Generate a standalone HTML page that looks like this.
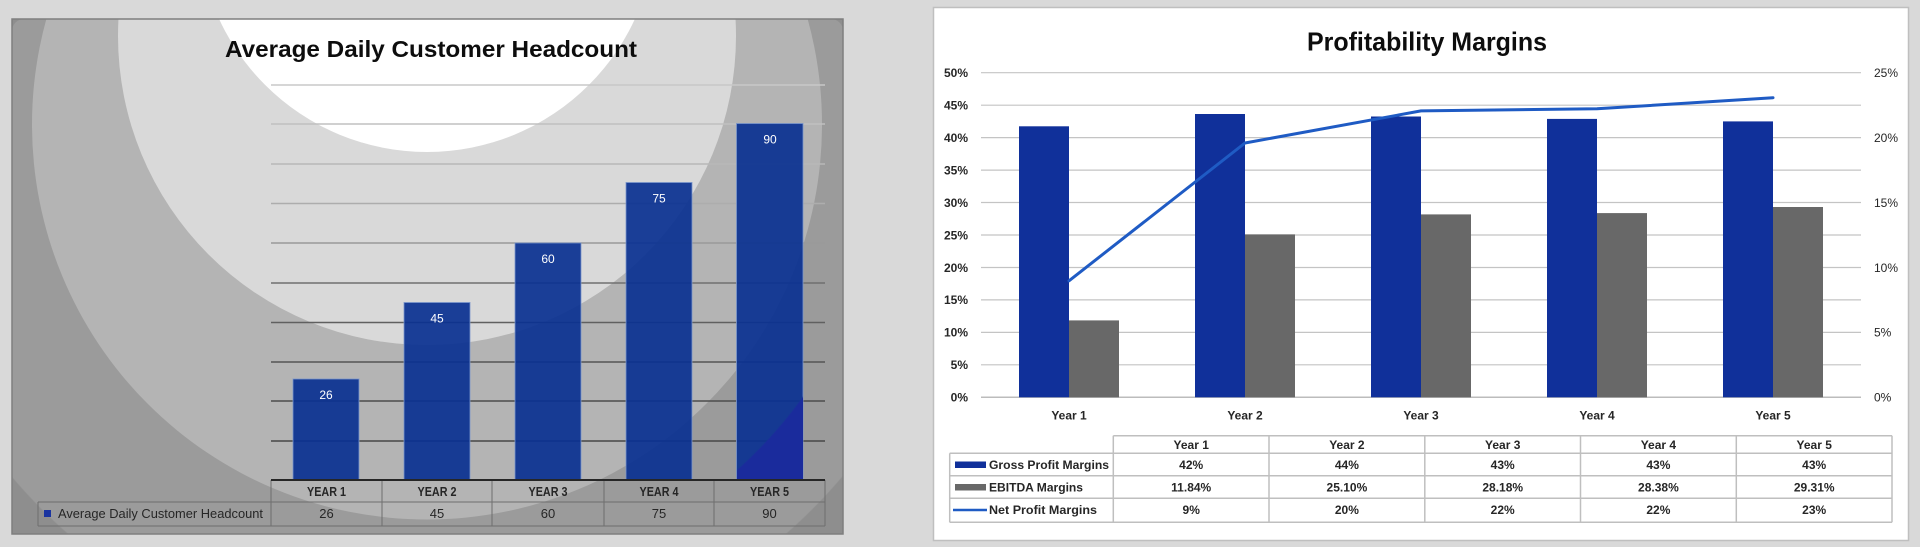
<!DOCTYPE html>
<html>
<head>
<meta charset="utf-8">
<style>
  html,body{margin:0;padding:0;background:#d9d9d9;width:1920px;height:547px;overflow:hidden;}
  svg{display:block;position:absolute;left:0;top:0;}
  text{font-family:"Liberation Sans", Arial, sans-serif;}
</style>
</head>
<body>
<svg width="1920" height="547" viewBox="0 0 1920 547" xmlns="http://www.w3.org/2000/svg">
  <defs>
    <clipPath id="lf"><rect x="12" y="19" width="831" height="515"/></clipPath>
    <radialGradient id="outer" gradientUnits="userSpaceOnUse" cx="427" cy="124.5" r="545">
      <stop offset="0" stop-color="#9b9b9b"/>
      <stop offset="0.998" stop-color="#9b9b9b"/>
      <stop offset="1" stop-color="#8e8e8e"/>
    </radialGradient>
    <radialGradient id="b5g" gradientUnits="userSpaceOnUse" cx="427" cy="124.5" r="465">
      <stop offset="0" stop-color="#1a2b9c" stop-opacity="0"/>
      <stop offset="0.997" stop-color="#1a2b9c" stop-opacity="0"/>
      <stop offset="1" stop-color="#1a2b9c" stop-opacity="1"/>
    </radialGradient>
  </defs>
  <rect width="1920" height="547" fill="#d9d9d9"/>

  <!-- ===== LEFT CHART ===== -->
  <g clip-path="url(#lf)">
    <rect x="12" y="19" width="831" height="515" fill="#8e8e8e"/>
    <rect x="12" y="19" width="831" height="515" rx="12" fill="url(#outer)"/>
    <circle cx="427" cy="124.5" r="395" fill="#b4b4b4"/>
    <circle cx="427" cy="36" r="309" fill="#d9d9d9"/>
    <circle cx="427" cy="-77" r="229" fill="#ffffff"/>
  </g>
  <rect x="12" y="19" width="831" height="515" fill="none" stroke="#7f7f7f" stroke-width="1.5"/>

  <!-- title -->
  <text x="225" y="57" font-size="23" font-weight="bold" fill="#0d0d0d" textLength="412" lengthAdjust="spacingAndGlyphs">Average Daily Customer Headcount</text>

  <!-- gridlines -->
  <g stroke-width="1.5">
    <line x1="271" y1="85" x2="825" y2="85" stroke="#c8c8c8"/>
    <line x1="271" y1="124" x2="825" y2="124" stroke="#c0c0c0"/>
    <line x1="271" y1="164" x2="825" y2="164" stroke="#b8b8b8"/>
    <line x1="271" y1="203.5" x2="825" y2="203.5" stroke="#adadad"/>
    <line x1="271" y1="243" x2="825" y2="243" stroke="#999999"/>
    <line x1="271" y1="283" x2="825" y2="283" stroke="#707070"/>
    <line x1="271" y1="322.5" x2="825" y2="322.5" stroke="#606060"/>
    <line x1="271" y1="362" x2="825" y2="362" stroke="#555555"/>
    <line x1="271" y1="401" x2="825" y2="401" stroke="#4d4d4d"/>
    <line x1="271" y1="441" x2="825" y2="441" stroke="#474747"/>
  </g>

  <!-- bars -->
  <g fill="#0a3191" fill-opacity="0.92" stroke="#7b96cc" stroke-width="1" stroke-opacity="0.8">
    <rect x="293" y="379" width="66" height="101"/>
    <rect x="404" y="302.5" width="66" height="177.5"/>
    <rect x="515" y="243" width="66" height="237"/>
    <rect x="626" y="182.5" width="66" height="297.5"/>
    <rect x="736.5" y="123.5" width="66.5" height="356.5"/>
  </g>
  <rect x="737" y="124" width="66" height="356" fill="url(#b5g)"/>

  <!-- bar labels -->
  <g font-size="12" fill="#ffffff" text-anchor="middle">
    <text x="326" y="399">26</text>
    <text x="437" y="322.5">45</text>
    <text x="548" y="263">60</text>
    <text x="659" y="202.5">75</text>
    <text x="770" y="143.5">90</text>
  </g>

  <!-- data table -->
  <g stroke="#6e6e6e" stroke-width="1">
    <line x1="38" y1="502" x2="825" y2="502"/>
    <line x1="38" y1="526" x2="825" y2="526"/>
    <line x1="38" y1="502" x2="38" y2="526"/>
    <line x1="271" y1="480" x2="271" y2="526"/>
    <line x1="382" y1="480" x2="382" y2="526"/>
    <line x1="492" y1="480" x2="492" y2="526"/>
    <line x1="604" y1="480" x2="604" y2="526"/>
    <line x1="714" y1="480" x2="714" y2="526"/>
    <line x1="825" y1="480" x2="825" y2="526"/>
  </g>
  <line x1="271" y1="480" x2="825" y2="480" stroke="#262626" stroke-width="2"/>
  <g font-size="12.5" font-weight="bold" fill="#262626" text-anchor="middle">
    <text x="326.5" y="496" textLength="39" lengthAdjust="spacingAndGlyphs">YEAR 1</text>
    <text x="437" y="496" textLength="39" lengthAdjust="spacingAndGlyphs">YEAR 2</text>
    <text x="548" y="496" textLength="39" lengthAdjust="spacingAndGlyphs">YEAR 3</text>
    <text x="659" y="496" textLength="39" lengthAdjust="spacingAndGlyphs">YEAR 4</text>
    <text x="769.5" y="496" textLength="39" lengthAdjust="spacingAndGlyphs">YEAR 5</text>
  </g>
  <g font-size="13" fill="#262626" text-anchor="middle">
    <text x="326.5" y="518">26</text>
    <text x="437" y="518">45</text>
    <text x="548" y="518">60</text>
    <text x="659" y="518">75</text>
    <text x="769.5" y="518">90</text>
  </g>
  <rect x="44" y="510" width="7" height="7" fill="#1a34a0"/>
  <text x="58" y="518" font-size="13" fill="#262626" textLength="205" lengthAdjust="spacingAndGlyphs">Average Daily Customer Headcount</text>

  <!-- ===== RIGHT CHART ===== -->
  <rect x="933.5" y="7.5" width="975" height="533" fill="#ffffff" stroke="#bfbfbf" stroke-width="1.5"/>
  <text x="1307" y="50.5" font-size="26" font-weight="bold" fill="#0d0d0d" textLength="240" lengthAdjust="spacingAndGlyphs">Profitability Margins</text>

  <!-- gridlines -->
  <g stroke="#c4c4c4" stroke-width="1.2">
    <line x1="981" y1="72.7" x2="1861" y2="72.7"/>
    <line x1="981" y1="105.2" x2="1861" y2="105.2"/>
    <line x1="981" y1="137.6" x2="1861" y2="137.6"/>
    <line x1="981" y1="170.1" x2="1861" y2="170.1"/>
    <line x1="981" y1="202.5" x2="1861" y2="202.5"/>
    <line x1="981" y1="235" x2="1861" y2="235"/>
    <line x1="981" y1="267.5" x2="1861" y2="267.5"/>
    <line x1="981" y1="299.9" x2="1861" y2="299.9"/>
    <line x1="981" y1="332.4" x2="1861" y2="332.4"/>
    <line x1="981" y1="364.8" x2="1861" y2="364.8"/>
  </g>
  <line x1="981" y1="397.3" x2="1861" y2="397.3" stroke="#bcbcbc" stroke-width="1.5"/>

  <!-- left axis labels -->
  <g font-size="12" font-weight="bold" fill="#262626" text-anchor="end">
    <text x="968" y="77">50%</text>
    <text x="968" y="109.5">45%</text>
    <text x="968" y="142">40%</text>
    <text x="968" y="174.5">35%</text>
    <text x="968" y="207">30%</text>
    <text x="968" y="239.5">25%</text>
    <text x="968" y="272">20%</text>
    <text x="968" y="304">15%</text>
    <text x="968" y="336.5">10%</text>
    <text x="968" y="369">5%</text>
    <text x="968" y="401.5">0%</text>
  </g>
  <!-- right axis labels -->
  <g font-size="12" fill="#262626">
    <text x="1874" y="77">25%</text>
    <text x="1874" y="142">20%</text>
    <text x="1874" y="207">15%</text>
    <text x="1874" y="272">10%</text>
    <text x="1874" y="336.5">5%</text>
    <text x="1874" y="401.5">0%</text>
  </g>

  <!-- bars -->
  <g fill="#10309a">
    <rect x="1019" y="126.3" width="50" height="271"/>
    <rect x="1195" y="114" width="50" height="283.3"/>
    <rect x="1371" y="116.5" width="50" height="280.8"/>
    <rect x="1547" y="118.9" width="50" height="278.4"/>
    <rect x="1723" y="121.4" width="50" height="275.9"/>
  </g>
  <g fill="#686868">
    <rect x="1069" y="320.4" width="50" height="76.9"/>
    <rect x="1245" y="234.4" width="50" height="162.9"/>
    <rect x="1421" y="214.4" width="50" height="182.9"/>
    <rect x="1597" y="213.1" width="50" height="184.2"/>
    <rect x="1773" y="207" width="50" height="190.3"/>
  </g>
  <polyline points="1069,280.8 1245,143 1421,110.9 1597,108.8 1773,97.7" fill="none" stroke="#1f5bc4" stroke-width="3" stroke-linejoin="round" stroke-linecap="round"/>

  <!-- category labels -->
  <g font-size="12" font-weight="bold" fill="#262626" text-anchor="middle">
    <text x="1069" y="419.5">Year 1</text>
    <text x="1245" y="419.5">Year 2</text>
    <text x="1421" y="419.5">Year 3</text>
    <text x="1597" y="419.5">Year 4</text>
    <text x="1773" y="419.5">Year 5</text>
  </g>

  <!-- table -->
  <g stroke="#bfbfbf" stroke-width="1.5">
    <line x1="1113.3" y1="435.7" x2="1892" y2="435.7"/>
    <line x1="949.7" y1="453.3" x2="1892" y2="453.3"/>
    <line x1="949.7" y1="475.7" x2="1892" y2="475.7"/>
    <line x1="949.7" y1="498.3" x2="1892" y2="498.3"/>
    <line x1="949.7" y1="522.3" x2="1892" y2="522.3"/>
    <line x1="949.7" y1="453.3" x2="949.7" y2="522.3"/>
    <line x1="1113.3" y1="435.7" x2="1113.3" y2="522.3"/>
    <line x1="1269" y1="435.7" x2="1269" y2="522.3"/>
    <line x1="1424.8" y1="435.7" x2="1424.8" y2="522.3"/>
    <line x1="1580.5" y1="435.7" x2="1580.5" y2="522.3"/>
    <line x1="1736.3" y1="435.7" x2="1736.3" y2="522.3"/>
    <line x1="1892" y1="435.7" x2="1892" y2="522.3"/>
  </g>
  <g font-size="12" font-weight="bold" fill="#262626" text-anchor="middle">
    <text x="1191.2" y="449">Year 1</text>
    <text x="1346.9" y="449">Year 2</text>
    <text x="1502.7" y="449">Year 3</text>
    <text x="1658.4" y="449">Year 4</text>
    <text x="1814.2" y="449">Year 5</text>

    <text x="1191.2" y="469">42%</text>
    <text x="1346.9" y="469">44%</text>
    <text x="1502.7" y="469">43%</text>
    <text x="1658.4" y="469">43%</text>
    <text x="1814.2" y="469">43%</text>

    <text x="1191.2" y="491.5">11.84%</text>
    <text x="1346.9" y="491.5">25.10%</text>
    <text x="1502.7" y="491.5">28.18%</text>
    <text x="1658.4" y="491.5">28.38%</text>
    <text x="1814.2" y="491.5">29.31%</text>

    <text x="1191.2" y="514">9%</text>
    <text x="1346.9" y="514">20%</text>
    <text x="1502.7" y="514">22%</text>
    <text x="1658.4" y="514">22%</text>
    <text x="1814.2" y="514">23%</text>
  </g>
  <rect x="955" y="461.5" width="31" height="6.5" fill="#10309a"/>
  <rect x="955" y="484" width="31" height="6.5" fill="#686868"/>
  <line x1="953" y1="510" x2="987" y2="510" stroke="#1f5bc4" stroke-width="2.5"/>
  <g font-size="12" font-weight="bold" fill="#262626">
    <text x="989" y="469" textLength="120" lengthAdjust="spacingAndGlyphs">Gross Profit Margins</text>
    <text x="989" y="491.5" textLength="94" lengthAdjust="spacingAndGlyphs">EBITDA Margins</text>
    <text x="989" y="514" textLength="108" lengthAdjust="spacingAndGlyphs">Net Profit Margins</text>
  </g>
</svg>
</body>
</html>
